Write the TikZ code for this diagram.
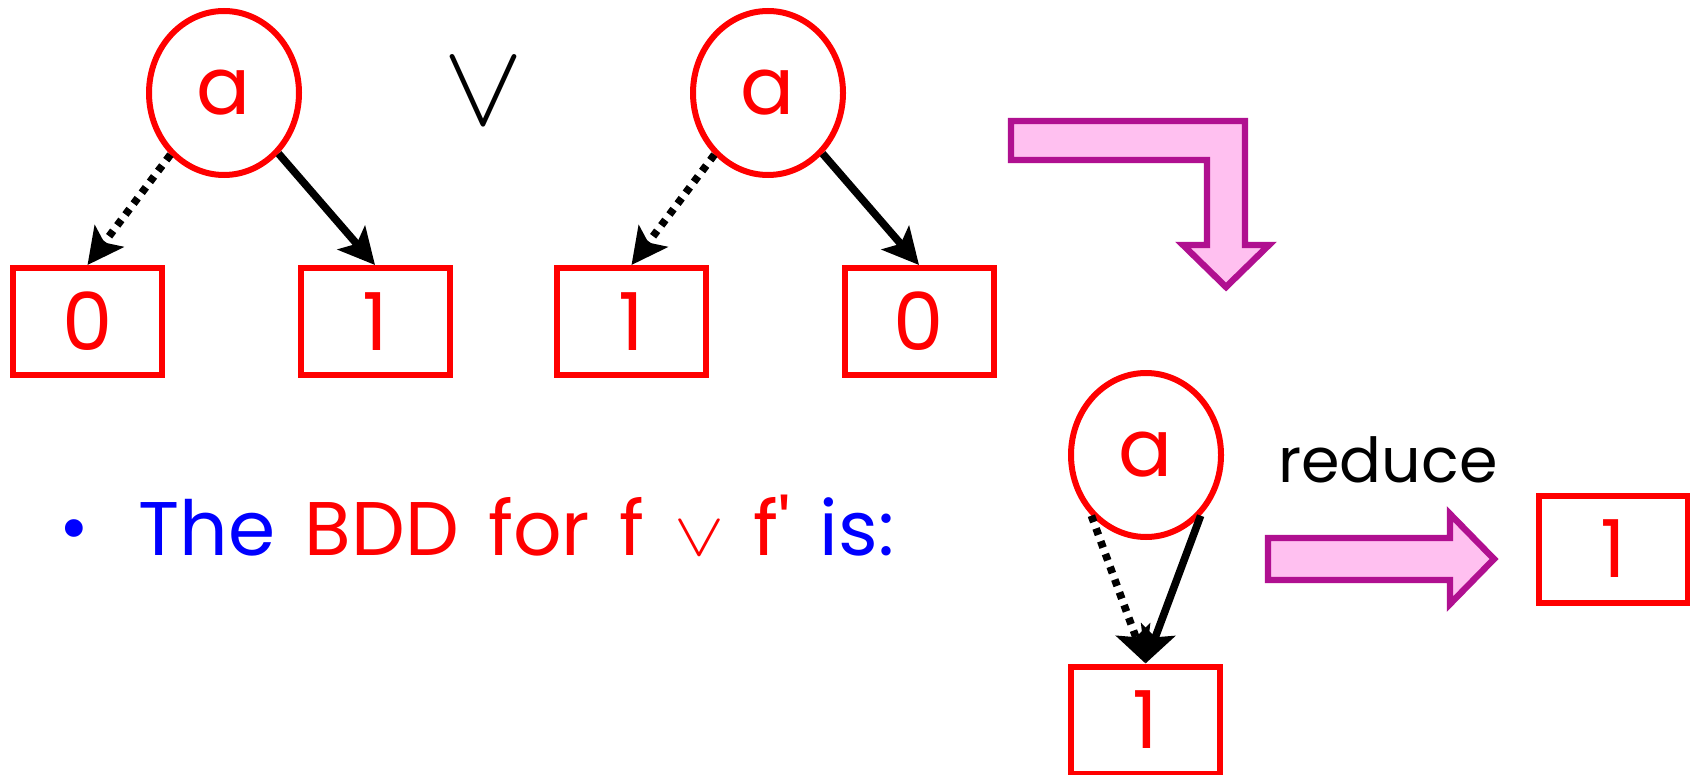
\documentclass[tikz,border=0pt]{standalone}
\usepackage{fontspec}
\setmainfont{Poppins}
\newfontfamily\stmtfont{Poppins}[WordSpace=1.45]
\usetikzlibrary{shapes.geometric,arrows.meta}
\definecolor{arrfill}{RGB}{255,192,240}
\definecolor{arrline}{RGB}{176,16,144}
\begin{document}
\begin{tikzpicture}[x=0.5pt,y=-0.5pt,
  bddvar/.style={ellipse, draw=red, line width=3pt, minimum width=75pt, minimum height=82pt,
    inner sep=0pt, text=red, font=\fontsize{40}{40}\selectfont},
  leaf/.style={rectangle, draw=red, line width=3pt, minimum width=74.5pt, minimum height=53.5pt,
    inner sep=0pt, text=red, font=\fontsize{40}{40}\selectfont},
  hi/.style={draw=black, line width=3.8pt, -{Stealth[length=18pt,width=18pt,inset=4pt]}},
  lo/.style={hi, dash pattern=on 3.4pt off 3.4pt},
  blockarrow/.style={draw=arrline, fill=arrfill, line width=3.2pt, line join=miter}]
\useasboundingbox (0,0) rectangle (1690,775);

% first BDD
\node[bddvar] (e1) at (224,93) {\raisebox{-4pt}{a}};
\node[leaf] (l1) at (87.5,321.5) {0};
\node[leaf] (r1) at (375,321.5) {1};
\draw[lo] (e1.-131) -- (l1.north);
\draw[hi] (e1.-48) -- (r1.north);

% or symbol
\node[inner sep=0pt] (orsym) at (484,92) {\resizebox{40pt}{32.5pt}{$\vee$}};

% second BDD
\node[bddvar] (e2) at (768,93) {\raisebox{-4pt}{a}};
\node[leaf] (l2) at (631.5,321.5) {1};
\node[leaf] (r2) at (919,321.5) {0};
\draw[lo] (e2.-131) -- (l2.north);
\draw[hi] (e2.-48) -- (r2.north);

% bent block arrow
\draw[blockarrow] (1011,121) -- (1245,121) -- (1245,245) -- (1269,245) -- (1226,287)
  -- (1183,245) -- (1207,245) -- (1207,160) -- (1011,160) -- cycle;

% result BDD
\node[bddvar] (e3) at (1146,455) {\raisebox{-4pt}{a}};
\node[leaf] (b3) at (1145.5,720) {1};
\draw[lo] (e3.-132) -- (b3.north);
\draw[hi] (e3.-48) -- (b3.north);

% reduce
\node[anchor=base, font=\fontsize{31}{31}\selectfont, inner sep=0pt] (red) at (1388,482) {reduce};
\draw[blockarrow] (1268,538) -- (1450,538) -- (1450,514) -- (1494,559) -- (1450,604)
  -- (1450,580) -- (1268,580) -- cycle;
\node[leaf] (fin) at (1613,549) {1};

% statement
\node[text=blue, font=\fontsize{36}{36}\selectfont, inner sep=0pt] (bul) at (74,536) {•};
\node[anchor=base west, inner sep=0pt, font=\stmtfont\fontsize{38}{38}\selectfont] (stmt) at (138,555)
  {\textcolor{blue}{The} \textcolor{red}{BDD for f \resizebox{25pt}{17pt}{$\vee$} f'} \textcolor{blue}{is:}};
\end{tikzpicture}
\end{document}
